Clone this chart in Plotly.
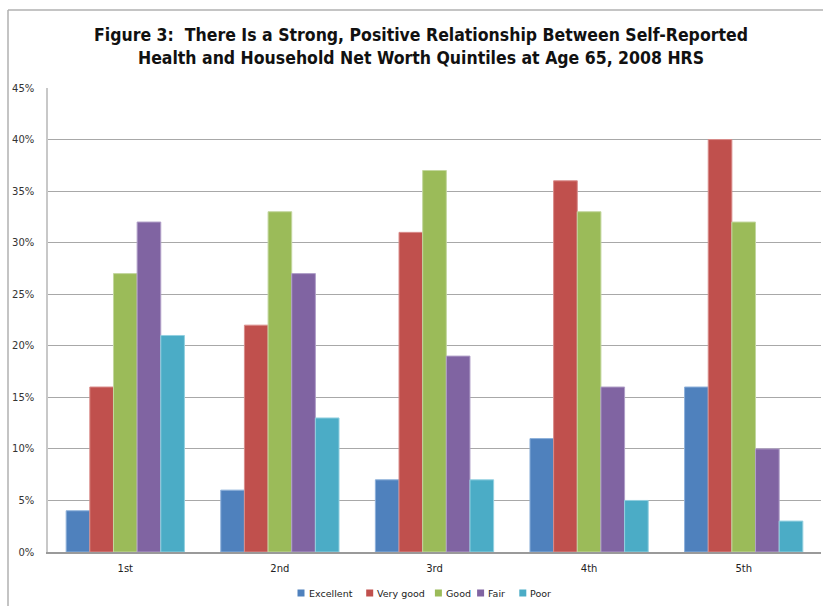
import plotly.graph_objects as go

W, H = 823, 606
ML, MR, MT, MB = 48, 2, 88, 54

categories = ["1st", "2nd", "3rd", "4th", "5th"]
series_names = ["Excellent", "Very good", "Good", "Fair", "Poor"]
excellent = [4, 6, 7, 11, 16]
very_good = [16, 22, 31, 36, 40]
good = [27, 33, 37, 33, 32]
fair = [32, 27, 19, 16, 10]
poor = [21, 13, 7, 5, 3]
colors = ["#4F81BD", "#C0504D", "#9BBB59", "#8064A2", "#4BACC6"]
edge_colors = ["#8DB0DA", "#D98C8A", "#C3D79F", "#B09FC8", "#93D0E0"]
y_ticks = [0, 5, 10, 15, 20, 25, 30, 35, 40, 45]
y_tick_labels = [f"{v}%" for v in y_ticks]

fig = go.Figure()
for name, vals, c, ec in zip(series_names, [excellent, very_good, good, fair, poor], colors, edge_colors):
    fig.add_trace(go.Bar(
        x=categories, y=vals, name=name, showlegend=False,
        marker=dict(color=c, line=dict(color=ec, width=1)),
    ))

pw = W - ML - MR
ph = H - MT - MB

def px_x(x):
    return (x - ML) / pw

def px_y(y):
    return (H - MB - y) / ph

# outer chart frame (left and top edges)
frame = dict(color="#B0B0B0", width=1.5)
fig.add_shape(type="line", xref="paper", yref="paper",
              x0=px_x(8), x1=px_x(8), y0=px_y(10), y1=px_y(606), line=frame)
fig.add_shape(type="line", xref="paper", yref="paper",
              x0=px_x(8), x1=px_x(823), y0=px_y(10), y1=px_y(10), line=frame)

# compact legend row below the plot: small square swatch + label
legend_font = dict(family="DejaVu Sans", size=9.5, color="#222222")
char_w = 5.3
gap_after = 11
sq = 7
entry_widths = [sq + 3 + char_w * len(n) for n in series_names]
total = sum(entry_widths) + gap_after * (len(series_names) - 1)
x_cur = 424 - total / 2
y_leg = 593
for name, c, ew in zip(series_names, colors, entry_widths):
    fig.add_shape(type="rect", xref="paper", yref="paper",
                  x0=px_x(x_cur), x1=px_x(x_cur + sq),
                  y0=px_y(y_leg - sq / 2), y1=px_y(y_leg + sq / 2),
                  fillcolor=c, line=dict(width=0))
    fig.add_annotation(xref="paper", yref="paper", x=px_x(x_cur + sq + 2), y=px_y(y_leg),
                       text=name, showarrow=False, xanchor="left", yanchor="middle",
                       font=legend_font)
    x_cur += ew + gap_after

fig.update_layout(
    width=W, height=H,
    margin=dict(l=ML, r=MR, t=MT, b=MB),
    paper_bgcolor="white", plot_bgcolor="white",
    barmode="group", bargap=0.235, bargroupgap=0,
    title=dict(
        text="<b>Figure 3:  There Is a Strong, Positive Relationship Between Self-Reported<br>Health and Household Net Worth Quintiles at Age 65, 2008 HRS</b>",
        x=px_x(421), xref="paper", xanchor="center", y=1 - 41 / H, yanchor="middle",
        font=dict(family="DejaVu Sans Condensed, Arial", size=17.5, color="#111111"),
    ),
    font=dict(family="DejaVu Sans", size=10, color="#333333"),
    xaxis=dict(
        showline=True, linecolor="#9A9A9A", linewidth=1.5,
        ticks="", tickfont=dict(size=10, color="#222222"), ticklabelstandoff=6,
        showgrid=False,
    ),
    yaxis=dict(
        range=[0, 45], tickvals=y_ticks, ticktext=y_tick_labels,
        showgrid=True, gridcolor="#A8A8A8", gridwidth=1.2,
        showline=True, linecolor="#C8C8C8", linewidth=1.5,
        ticks="", tickfont=dict(size=10, color="#333333"), ticklabelstandoff=10,
        zeroline=False,
    ),
    showlegend=False,
)

fig.write_html("out.html")
